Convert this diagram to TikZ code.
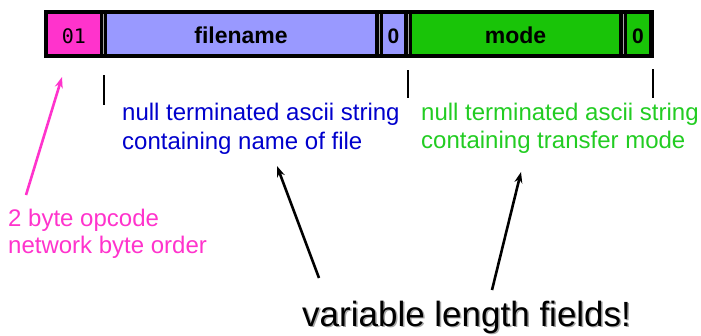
\documentclass[tikz,border=0pt]{standalone}
\usepackage{fontspec}
\setmainfont{Liberation Sans}
\newfontfamily\monofnt{DejaVu Sans Mono}
\usetikzlibrary{arrows.meta}
\definecolor{cpink}{RGB}{255,51,204}
\definecolor{clav}{RGB}{153,153,255}
\definecolor{cgreen}{RGB}{25,196,8}
\definecolor{tblue}{RGB}{0,0,204}
\definecolor{tgreen}{RGB}{34,204,34}
\definecolor{tpink}{RGB}{255,51,204}
\begin{document}
\begin{tikzpicture}[x=1pt,y=-1pt,
  celltext/.style={inner sep=0pt,anchor=base,font=\fontsize{23}{27}\selectfont\bfseries},
  lbl/.style={inner sep=0pt,anchor=base west,font=\fontsize{24}{28}\selectfont},
  tick/.style={line width=2pt,black},
  arr/.style={line width=2.6pt,-{Stealth[length=11pt,width=8pt]}}
]
\useasboundingbox (0,0) rectangle (701,335);
% bar
\fill[black] (44,10) rectangle (654,58);
\fill[cpink] (48,14) rectangle (100,54);
\fill[clav] (107,14) rectangle (375,54);
\fill[clav] (383,14) rectangle (404,54);
\fill[cgreen] (412,14) rectangle (619,54);
\fill[cgreen] (627,14) rectangle (649,54);
\foreach \x in {103.5,379,408,623} \draw[gray!70,line width=0.6pt] (\x,14) -- (\x,54);
\node[inner sep=0pt,anchor=base,font=\fontsize{20}{24}\monofnt] (op) at (74,43) {01};
\node[celltext] (fn) at (241,43) {filename};
\node[celltext,font=\fontsize{21}{24}\selectfont\bfseries] (z1) at (393.5,43) {0};
\node[celltext] (md) at (515.5,43) {mode};
\node[celltext,font=\fontsize{21}{24}\selectfont\bfseries] (z2) at (638,43) {0};
% ticks
\draw[tick] (104,75) -- (104,105);
\draw[tick] (408,70) -- (408,98);
\draw[tick] (653,69) -- (653,98);
% labels
\node[lbl,text=tblue] (b1) at (122,120) {null terminated ascii string};
\node[lbl,text=tblue] (b2) at (122,149) {containing name of file};
\node[lbl,text=tgreen] (g1) at (421,120) {null terminated ascii string};
\node[lbl,text=tgreen] (g2) at (421,148) {containing transfer mode};
\node[lbl,text=tpink] (p1) at (8,226) {2 byte opcode};
\node[lbl,text=tpink] (p2) at (8,253) {network byte order};
\node[inner sep=0pt,anchor=base west,font=\fontsize{35}{40}\selectfont,text=black!35] (vshadow) at (303.5,327.5) {variable length fields!};
\node[inner sep=0pt,anchor=base west,font=\fontsize{35}{40}\selectfont] (var) at (302,326) {variable length fields!};
% arrows
\coordinate (pt) at (26,195);
\coordinate (ph) at (62,77);
\coordinate (lt) at (319,278);
\coordinate (lh) at (277,166);
\coordinate (rt) at (492,290);
\coordinate (rh) at (521,172);
\draw[arr,tpink] (pt) -- (ph);
\draw[arr] (lt) -- (lh);
\draw[arr] (rt) -- (rh);
\end{tikzpicture}
\end{document}
